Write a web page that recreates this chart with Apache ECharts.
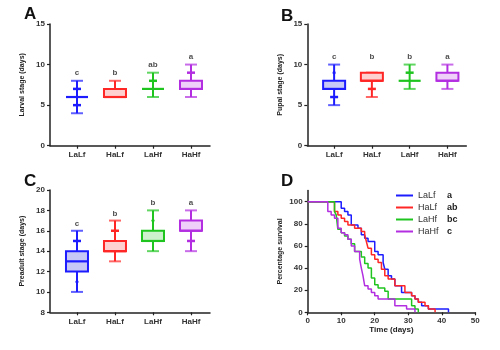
<!DOCTYPE html>
<html><head><meta charset="utf-8">
<script src="https://cdn.jsdelivr.net/npm/echarts@6/dist/echarts.min.js"></script>
<style>html,body{margin:0;padding:0;background:#fff}#c{width:500px;height:350px}</style>
</head><body><div id="c"></div>
<script>
const categories = ['LaLf', 'HaLf', 'LaHf', 'HaHf'];
// box stats: [min, Q1, median, Q3, max]
const larvalStats = [[4, 6, 6, 6, 8], [6, 6, 6, 7, 8], [6, 7, 7, 7, 9], [6, 7, 7, 8, 10]];
const larvalDashes = [[5, 7], [], [8], [9]];
const larvalDots = [[], [], [], []];
const larvalSig = ['c', 'b', 'ab', 'a'];
const larvalSigY = [9, 9, 10, 11];

const pupalStats = [[5, 7, 7, 8, 10], [6, 8, 8, 9, 9], [7, 8, 8, 8, 10], [7, 8, 8, 9, 10]];
const pupalDashes = [[6], [7], [9], []];
const pupalDots = [[9], [], [], []];
const pupalSig = ['c', 'b', 'b', 'a'];
const pupalSigY = [10.9, 10.9, 10.9, 10.9];

const preadultStats = [[10, 12, 13, 14, 16], [13, 14, 14, 15, 17], [14, 15, 15, 16, 18], [14, 16, 16, 17, 18]];
const preadultDashes = [[15], [16], [], [15]];
const preadultDots = [[11], [], [17], []];
const preadultSig = ['c', 'b', 'b', 'a'];
const preadultSigY = [16.7, 17.7, 18.75, 18.75];

const larvalTicks = [0, 5, 10, 15];
const preadultTicks = [8, 10, 12, 14, 16, 18, 20];
const survivalYTicks = [0, 20, 40, 60, 80, 100];
const survivalXTicks = [0, 10, 20, 30, 40, 50];

// survival curves: [time (days), percentage survival]
const survLaLf = [[0,100],[10,94],[11,91],[12,88],[13,79],[15,76],[16,70],[17,67],[18,64],[20,55],[21,52],[22.5,45],[23,39],[24,33],[25,30],[26,24],[28,18],[31,15],[32,12],[33,9],[34,6],[36,3],[42,0]];
const survHaLf = [[0,100],[8,91],[9,88],[10,85],[11,82],[12,79],[14,76],[16,73],[17,70],[17.5,64],[18,58],[19,52],[20,48],[21,45],[22,39],[23,33],[24,30],[26,24],[29,18],[31,15],[32,12],[33,9],[35,6],[36,3],[38,0]];
const survLaHf = [[0,100],[8,91],[8.5,88],[9,75],[10,72],[11,69],[12,66],[13,62],[14,55],[16,50],[17,44],[18,40],[19,31],[20,25],[21,22],[23,19],[24,12],[31,6],[32,3],[33,0]];
const survHaHf = [[0,100],[6,91],[7,88],[8,85],[9,76],[10,72],[11,70],[12,66],[13,60],[14,55],[15.5,48],[16,40],[16.5,33],[17,24],[18,21],[19,18],[20,15],[21,12],[26,6],[29.5,3],[32,0]];
const survivalSig = ['a', 'ab', 'bc', 'c'];

const colors = ['#1c1cff', '#ff2626', '#1fc41f', '#b22ee0'];
const fills = ['#c8c8f6', '#ffd0d0', '#cdf0cd', '#eed0f8'];
const FONT = 'Liberation Sans, Arial, sans-serif';

const chart = echarts.init(document.getElementById('c'));

function boxRender(params, api) {
  const x = api.value(0);
  const c = colors[params.dataIndex], f = fills[params.dataIndex];
  const p = k => api.coord([x, api.value(k)]);
  const pMin = p(1), pQ1 = p(2), pMed = p(3), pQ3 = p(4), pMax = p(5);
  const cx = pMin[0], bw = 22, cw = 12;
  const ch = [
    {type: 'line', shape: {x1: cx, y1: pMin[1], x2: cx, y2: pMax[1]}, style: {stroke: c, lineWidth: 2}},
    {type: 'line', shape: {x1: cx - cw / 2, y1: pMin[1], x2: cx + cw / 2, y2: pMin[1]}, style: {stroke: c, lineWidth: 2, opacity: 0.7}},
    {type: 'line', shape: {x1: cx - cw / 2, y1: pMax[1], x2: cx + cw / 2, y2: pMax[1]}, style: {stroke: c, lineWidth: 2, opacity: 0.7}}
  ];
  if (pQ1[1] - pQ3[1] > 0.5) {
    ch.push({type: 'rect', shape: {x: cx - bw / 2, y: pQ3[1], width: bw, height: pQ1[1] - pQ3[1]}, style: {fill: f, stroke: c, lineWidth: 2}});
  }
  ch.push({type: 'line', shape: {x1: cx - bw / 2, y1: pMed[1], x2: cx + bw / 2, y2: pMed[1]}, style: {stroke: c, lineWidth: 2.2}});
  return {type: 'group', children: ch};
}
function dashRender(params, api) {
  const pt = api.coord([api.value(0), api.value(1)]);
  const c = colors[api.value(0) - 1];
  return {type: 'line', shape: {x1: pt[0] - 4, y1: pt[1], x2: pt[0] + 4, y2: pt[1]}, style: {stroke: c, lineWidth: 2.5}};
}
function dotRender(params, api) {
  const pt = api.coord([api.value(0), api.value(1)]);
  const c = colors[api.value(0) - 1];
  return {type: 'circle', shape: {cx: pt[0], cy: pt[1], r: 1.6}, style: {fill: c}};
}
function flat(arr) {
  const out = [];
  arr.forEach((vals, i) => vals.forEach(v => out.push([i + 1, v])));
  return out;
}

const axisLineStyle = {show: true, lineStyle: {color: '#222', width: 1.5}};
const tickStyle = {show: true, length: 3, lineStyle: {color: '#222', width: 1.2}};
const labelStyle = {fontSize: 8, fontWeight: 'bold', color: '#333', fontFamily: FONT};

function catXAxis(gi) {
  return {
    type: 'value', gridIndex: gi, min: 0.29, max: 4.5,
    axisLine: axisLineStyle, splitLine: {show: false},
    axisTick: Object.assign({}, tickStyle, {customValues: [1, 2, 3, 4]}),
    axisLabel: Object.assign({}, labelStyle, {customValues: [1, 2, 3, 4], margin: 5, formatter: v => categories[Math.round(v) - 1] || ''})
  };
}
function valYAxis(gi, name, ticks, gap) {
  return {
    type: 'value', gridIndex: gi, min: ticks[0], max: ticks[ticks.length - 1],
    interval: ticks[1] - ticks[0],
    name: name, nameLocation: 'middle', nameRotate: 90, nameGap: gap,
    nameTextStyle: {fontSize: 7, fontWeight: 'bold', color: '#222', fontFamily: FONT},
    axisLine: axisLineStyle, splitLine: {show: false},
    axisTick: tickStyle, axisLabel: Object.assign({}, labelStyle, {margin: 5})
  };
}
function boxSeries(idx, stats, dashes, dots, sig, sigY) {
  return [
    {type: 'custom', xAxisIndex: idx, yAxisIndex: idx, renderItem: boxRender, data: stats.map((s, i) => [i + 1].concat(s)), z: 3},
    {type: 'custom', xAxisIndex: idx, yAxisIndex: idx, renderItem: dashRender, data: flat(dashes), z: 4},
    {type: 'custom', xAxisIndex: idx, yAxisIndex: idx, renderItem: dotRender, data: flat(dots), z: 4},
    {type: 'scatter', xAxisIndex: idx, yAxisIndex: idx, symbolSize: 0, silent: true,
     data: sig.map((s, i) => ({value: [i + 1, sigY[i]], name: s})),
     label: {show: true, position: 'inside', formatter: p => p.name, fontSize: 8, fontWeight: 'bold', color: '#222', fontFamily: FONT}}
  ];
}

const survNames = categories;
const survData = [survLaLf, survHaLf, survLaHf, survHaHf];

const option = {
  animation: false,
  backgroundColor: '#fff',
  title: [
    {text: 'A', left: 24, top: 6, padding: 0, textStyle: {fontSize: 17, fontWeight: 'bold', color: '#111', fontFamily: FONT}},
    {text: 'B', left: 281, top: 8, padding: 0, textStyle: {fontSize: 17, fontWeight: 'bold', color: '#111', fontFamily: FONT}},
    {text: 'C', left: 24, top: 173, padding: 0, textStyle: {fontSize: 17, fontWeight: 'bold', color: '#111', fontFamily: FONT}},
    {text: 'D', left: 281, top: 173, padding: 0, textStyle: {fontSize: 17, fontWeight: 'bold', color: '#111', fontFamily: FONT}}
  ],
  grid: [
    {left: 50, top: 24, width: 160, height: 121.7},
    {left: 307.3, top: 24, width: 159, height: 121.7},
    {left: 50, top: 190, width: 160, height: 122.3},
    {left: 307.7, top: 190.6, width: 167.6, height: 121.7}
  ],
  xAxis: [
    catXAxis(0), catXAxis(1), catXAxis(2),
    {type: 'value', gridIndex: 3, min: 0, max: 50, interval: 10,
     name: 'Time (days)', nameLocation: 'middle', nameGap: 13,
     nameTextStyle: {fontSize: 8, fontWeight: 'bold', color: '#222', fontFamily: FONT},
     axisLine: axisLineStyle, splitLine: {show: false}, axisTick: tickStyle,
     axisLabel: Object.assign({}, labelStyle, {margin: 4})}
  ],
  yAxis: [
    valYAxis(0, 'Larval stage (days)', larvalTicks, 24),
    valYAxis(1, 'Pupal stage (days)', larvalTicks, 24),
    valYAxis(2, 'Preadult stage (days)', preadultTicks, 24),
    {type: 'value', gridIndex: 3, min: 0, max: 110,
     name: 'Percentage survival', nameLocation: 'middle', nameRotate: 90, nameGap: 24,
     nameTextStyle: {fontSize: 7, fontWeight: 'bold', color: '#222', fontFamily: FONT},
     axisLine: axisLineStyle, splitLine: {show: false},
     axisTick: Object.assign({}, tickStyle, {customValues: survivalYTicks}),
     axisLabel: Object.assign({}, labelStyle, {margin: 5, customValues: survivalYTicks})}
  ],
  legend: {
    show: true, orient: 'vertical', left: 396, top: 191, padding: 0,
    itemWidth: 17, itemHeight: 2, itemGap: 3, icon: 'rect',
    data: survNames,
    formatter: n => '{n|' + n + '}{s|' + survivalSig[survNames.indexOf(n)] + '}',
    textStyle: {
      fontFamily: FONT, color: '#333',
      rich: {
        n: {fontSize: 9, width: 29, height: 10, color: '#333', fontFamily: FONT},
        s: {fontSize: 9, height: 10, color: '#222', fontWeight: 'bold', fontFamily: FONT}
      }
    }
  },
  series: [].concat(
    boxSeries(0, larvalStats, larvalDashes, larvalDots, larvalSig, larvalSigY),
    boxSeries(1, pupalStats, pupalDashes, pupalDots, pupalSig, pupalSigY),
    boxSeries(2, preadultStats, preadultDashes, preadultDots, preadultSig, preadultSigY),
    survData.map((d, i) => ({
      type: 'line', name: survNames[i], xAxisIndex: 3, yAxisIndex: 3,
      step: 'end', symbol: 'none', data: d,
      lineStyle: {color: colors[i], width: 1.5}, itemStyle: {color: colors[i]}
    }))
  )
};
chart.setOption(option);
</script>
</body></html>
